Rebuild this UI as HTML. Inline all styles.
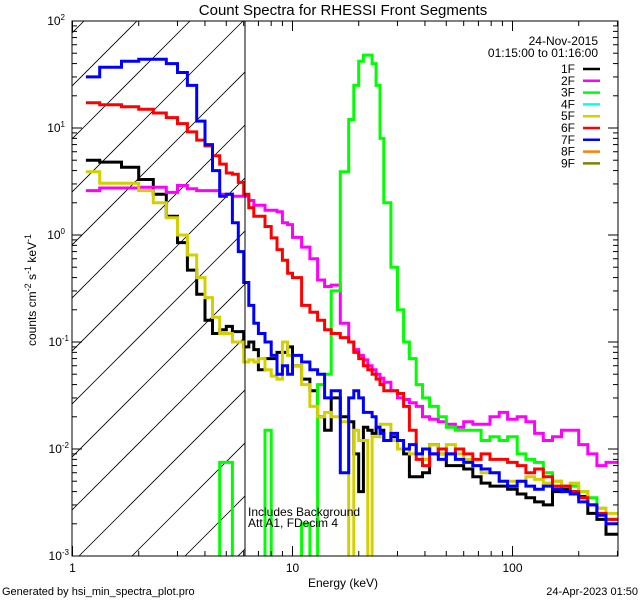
<!DOCTYPE html>
<html><head><meta charset="utf-8"><style>
html,body{margin:0;padding:0;background:#fff;}
svg{display:block;font-family:"Liberation Sans",sans-serif;}
</style></head><body>
<svg id="c" width="640" height="600" viewBox="0 0 640 600" xmlns="http://www.w3.org/2000/svg">
<rect width="640" height="600" fill="#fff"/>
<defs><clipPath id="pc"><rect x="72" y="21" width="546" height="535"/></clipPath>
<clipPath id="hc"><rect x="72" y="21" width="173" height="535"/></clipPath></defs>
<text x="343" y="15" text-anchor="middle" font-size="15">Count Spectra for RHESSI Front Segments</text>
<g id="hatch" clip-path="url(#hc)"></g>
<g id="series" clip-path="url(#pc)"></g>
<g id="axes"></g>
<text x="248" y="516" font-size="12">Includes Background</text>
<text x="248" y="527" font-size="12">Att A1, FDecim 4</text>
<text x="343" y="587" text-anchor="middle" font-size="12">Energy (keV)</text>
<text transform="translate(36,290) rotate(-90)" text-anchor="middle" font-size="12">counts cm<tspan dy="-5" font-size="9">-2</tspan><tspan dy="5"> s</tspan><tspan dy="-5" font-size="9">-1</tspan><tspan dy="5"> keV</tspan><tspan dy="-5" font-size="9">-1</tspan></text>
<text x="2" y="595" font-size="11">Generated by hsi_min_spectra_plot.pro</text>
<text x="638" y="595" text-anchor="end" font-size="11">24-Apr-2023 01:50</text>
<text x="598" y="45" text-anchor="end" font-size="12">24-Nov-2015</text>
<text x="598" y="57" text-anchor="end" font-size="12">01:15:00 to 01:16:00</text>
<g id="legend"></g>
</svg>
<script>
const edges = [1.15,1.33,1.67,2,2.33,2.67,3,3.33,3.67,4,4.33,4.67,5,5.33,5.67,6,6.33,6.67,7,7.5,8,8.5,9,9.5,10,11,12,13,14,15,16.5,18,19,20,21,22,23,24,25,26,28,30,32,34,36.5,39,42,46,50,55,60,66,72,79,87,95,105,115,126,138,152,167,183,200,220,242,266,300];
const s1F = [5.0,4.8,4.3,3.3,2.4,1.5,0.85,0.47,0.28,0.16,0.12,0.13,0.14,0.125,0.125,0.09,0.1,0.085,0.055,0.07,0.07,0.08,0.08,0.09,0.06,0.045,0.035,0.02,0.015,0.03,0.02,0.018,0.009,0.004,0.016,0.015,0.014,0.016,0.015,0.012,0.013,0.01,0.009,0.0055,0.0055,0.006,0.011,0.009,0.007,0.007,0.0065,0.0055,0.0048,0.0045,0.0045,0.0042,0.0038,0.0035,0.0032,0.003,0.004,0.0042,0.004,0.0036,0.0025,0.0022,0.0016];
const s2F = [2.6,2.75,2.75,2.8,2.8,2.5,2.9,2.7,2.6,2.6,2.6,2.4,2.4,2.3,2.3,2.3,2.1,1.9,1.9,1.7,1.7,1.65,1.3,1.25,0.95,0.77,0.6,0.38,0.33,0.34,0.15,0.1,0.085,0.075,0.068,0.06,0.055,0.05,0.046,0.042,0.035,0.03,0.029,0.027,0.025,0.02,0.019,0.018,0.017,0.016,0.018,0.017,0.017,0.02,0.022,0.019,0.02,0.018,0.014,0.012,0.013,0.015,0.015,0.011,0.009,0.007,0.0075];
const s3F = [0.0003,0.0003,0.0003,0.0003,0.0003,0.0003,0.0003,0.0003,0.0003,0.0003,0.0003,0.0075,0.0075,0.0003,0.0003,0.0003,0.0003,0.0003,0.0003,0.015,0.0003,0.0003,0.0006,0.0003,0.0006,0.002,0.0005,0.04,0.05,0.3,3.9,12,25,42,48,48,40,25,8,2,0.5,0.2,0.1,0.07,0.04,0.03,0.025,0.02,0.016,0.015,0.015,0.015,0.012,0.013,0.012,0.013,0.009,0.008,0.0075,0.006,0.005,0.0045,0.0045,0.004,0.0035,0.0028,0.0022];
const s5F = [3.9,3.05,3.05,2.6,2.0,1.45,1.0,0.65,0.4,0.26,0.17,0.12,0.12,0.1,0.1,0.065,0.068,0.065,0.07,0.055,0.048,0.045,0.1,0.075,0.06,0.04,0.025,0.02,0.022,0.02,0.018,0.0004,0.015,0.012,0.012,0.0005,0.013,0.013,0.017,0.017,0.012,0.01,0.01,0.009,0.009,0.008,0.011,0.009,0.011,0.009,0.008,0.007,0.006,0.006,0.005,0.005,0.005,0.0055,0.0052,0.0048,0.005,0.0045,0.0048,0.004,0.003,0.0028,0.0025];
const s6F = [17.2,16.5,15.8,15,13.8,12.5,11,9.2,7.7,6.8,5.5,4.6,3.8,3.7,3.1,2.4,1.8,1.5,1.5,1.2,0.94,0.73,0.58,0.44,0.4,0.22,0.19,0.16,0.13,0.12,0.11,0.1,0.08,0.07,0.06,0.055,0.05,0.045,0.04,0.035,0.035,0.033,0.025,0.015,0.008,0.007,0.009,0.01,0.009,0.01,0.009,0.008,0.009,0.008,0.008,0.0075,0.007,0.006,0.0065,0.0055,0.0045,0.0045,0.004,0.0035,0.003,0.0025,0.0022];
const s7F = [30,37,42,44,44,40,33,25,11.6,7,4,2.3,2.4,1.3,0.7,0.36,0.22,0.15,0.12,0.1,0.075,0.05,0.06,0.05,0.075,0.065,0.055,0.05,0.03,0.035,0.006,0.03,0.035,0.03,0.022,0.022,0.02,0.016,0.014,0.012,0.014,0.012,0.01,0.011,0.009,0.01,0.009,0.008,0.009,0.008,0.0075,0.007,0.0065,0.006,0.005,0.0045,0.005,0.0045,0.0042,0.0045,0.0042,0.004,0.0038,0.0032,0.003,0.0024,0.002];
const seriesNames = ["1F","2F","3F","4F","5F","6F","7F","8F","9F"];
const seriesColors = ["#000000","#ff00ff","#00ff00","#00ffff","#d4d000","#ff0000","#0000ff","#ff8000","#808000"];
const xTickLabels = ["1","10","100"];
const yTickExps = ["2","1","0","-1","-2","-3"];

const NS="http://www.w3.org/2000/svg";
const X0=72.5, XD=220, Y0=21, YD=107;
function xs(e){return X0+XD*Math.log10(e);}
function ys(v){return Y0+YD*(2-Math.log10(v));}
function mk(tag,attrs,parent){const el=document.createElementNS(NS,tag);for(const k in attrs)el.setAttribute(k,attrs[k]);parent.appendChild(el);return el;}

// hatch
const hatch=document.getElementById('hatch');
for(let i=-2;i<14;i++){
  const b=137+i*53;
  const ln=mk('line',{x1:b,y1:21,x2:b-540,y2:561,stroke:'#000','stroke-width':0.8},hatch);
  
  
}

// series
const sg=document.getElementById('series');
const drawList=[[s1F,0],[s2F,1],[s3F,2],[s5F,4],[s6F,5],[s7F,6]];
drawList.forEach(([vals,ci])=>{
  let d='';
  for(let i=0;i<vals.length;i++){
    const xa=xs(edges[i]),xb=xs(edges[i+1]),y=Math.min(ys(vals[i]),700);
    d+=(i===0?'M':'L')+xa.toFixed(1)+','+y.toFixed(1)+'L'+xb.toFixed(1)+','+y.toFixed(1);
  }
  const p=mk('path',{d:d,fill:'none',stroke:seriesColors[ci],'stroke-width':3,'stroke-linejoin':'miter'},sg);
  
  
});

// axes
const ax=document.getElementById('axes');
const frame=mk('rect',{x:72,y:21,width:546,height:535,fill:'none',stroke:'#000','stroke-width':1},ax);


const vl=mk('line',{x1:245,y1:21,x2:245,y2:556,stroke:'#000','stroke-width':1},ax);


for(let dec=0;dec<3;dec++){
  for(let m=1;m<10;m++){
    const e=Math.pow(10,dec)*m; const x=xs(e); if(x>618)continue;
    const L=m===1?10:5;
    const t1=mk('line',{x1:x,y1:556,x2:x,y2:556-L,stroke:'#000'},ax);
    
    
    const t2=mk('line',{x1:x,y1:21,x2:x,y2:21+L,stroke:'#000'},ax);
    
    
  }
}
xTickLabels.forEach((lab,i)=>{
  const t=mk('text',{x:xs(Math.pow(10,i)),y:572,'text-anchor':'middle','font-size':12},ax);
  t.textContent=lab;
  
  
});
for(let p=-3;p<2;p++){
  for(let m=1;m<10;m++){
    const v=Math.pow(10,p)*m; const y=ys(v); const L=m===1?10:5;
    const a=mk('line',{x1:72,y1:y,x2:72+L,y2:y,stroke:'#000'},ax);
    
    
    const b=mk('line',{x1:618,y1:y,x2:618-L,y2:y,stroke:'#000'},ax);
    
    
  }
}
yTickExps.forEach(ex=>{
  const y=ys(Math.pow(10,+ex));
  const t=mk('text',{x:ex.length>1?69:65,y:y+4,'text-anchor':'end','font-size':12},ax);
  
  
  t.textContent='10';
  const s=mk('tspan',{dy:-5,'font-size':8},t);
  s.textContent=ex;
});

// legend
const lg=document.getElementById('legend');
seriesNames.forEach((n,i)=>{
  const y=69+i*11.8;
  const t=mk('text',{x:575,y:y+4,'text-anchor':'end','font-size':12},lg);
  t.textContent=n;
  
  
  const l=mk('line',{x1:583,y1:y,x2:600,y2:y,stroke:seriesColors[i],'stroke-width':2.5},lg);
  
  
});
</script>
</body></html>
